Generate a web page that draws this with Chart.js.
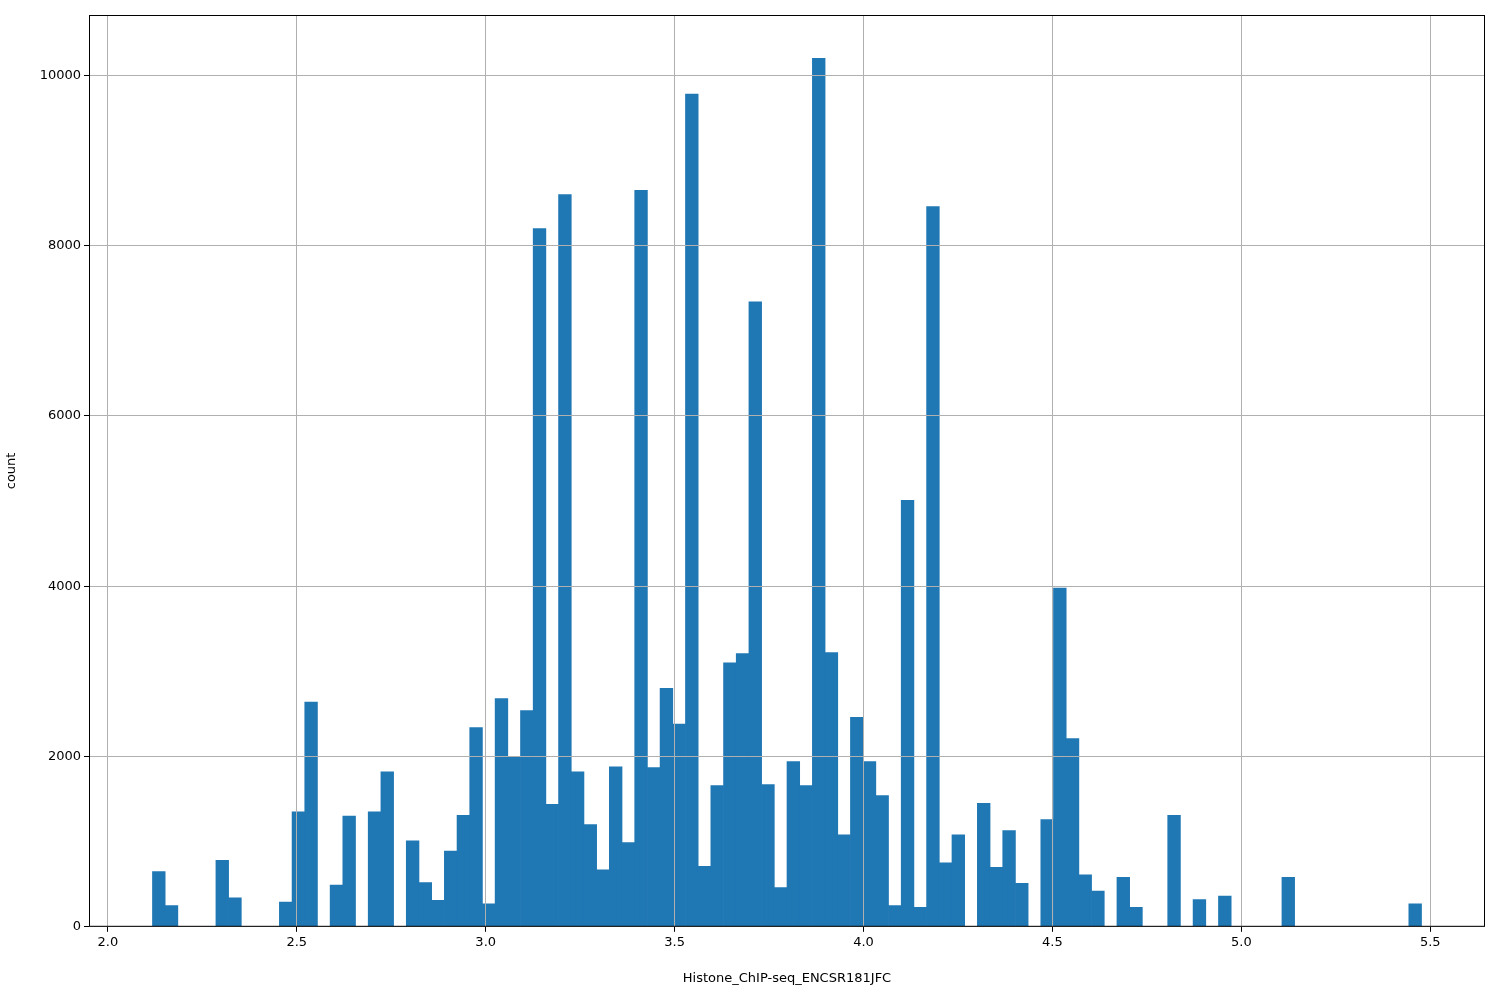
<!DOCTYPE html>
<html>
<head>
<meta charset="utf-8">
<script src="https://cdn.jsdelivr.net/npm/chart.js@4"></script>
<style>
  html, body { margin: 0; padding: 0; background: #fff; }
  #wrap { width: 1500px; height: 1000px; }
</style>
</head>
<body>
<div id="wrap"><canvas id="c"></canvas></div>
<script>
// Histogram: 100 bins between data min and max
const binStart = 2.118;
const binEnd = 5.477;
const counts = [
  650, 250, 0, 0, 0, 780, 340, 0, 0, 0,
  290, 1350, 2640, 0, 490, 1300, 0, 1350, 1820, 0,
  1010, 520, 310, 890, 1310, 2340, 270, 2680, 2000, 2540,
  8200, 1440, 8600, 1820, 1200, 670, 1880, 990, 8650, 1870,
  2800, 2380, 9780, 710, 1660, 3100, 3210, 7340, 1670, 460,
  1940, 1660, 10200, 3220, 1080, 2460, 1940, 1540, 250, 5010,
  230, 8460, 750, 1080, 0, 1450, 700, 1130, 510, 0,
  1260, 3980, 2210, 610, 420, 0, 580, 230, 0, 0,
  1310, 0, 320, 0, 360, 0, 0, 0, 0, 580,
  0, 0, 0, 0, 0, 0, 0, 0, 0, 270
];
const xTicks = [2.0, 2.5, 3.0, 3.5, 4.0, 4.5, 5.0, 5.5];
const yTicks = [0, 2000, 4000, 6000, 8000, 10000];

const binWidth = (binEnd - binStart) / counts.length;
const points = counts.map((c, i) => ({ x: binStart + (i + 0.5) * binWidth, y: c }));

// frame around the plot area
const frame = {
  id: 'frame',
  afterDraw(chart) {
    const a = chart.chartArea, ctx = chart.ctx;
    ctx.save();
    ctx.strokeStyle = '#000';
    ctx.lineWidth = 1;
    ctx.strokeRect(a.left + 0.5, a.top + 0.5, a.right - a.left - 1, a.bottom - a.top - 1);
    ctx.restore();
  }
};

new Chart(document.getElementById('c'), {
  type: 'bar',
  data: {
    datasets: [{
      data: points,
      backgroundColor: '#1f77b4',
      borderWidth: 0,
      barPercentage: 1.0,
      categoryPercentage: 1.0
    }]
  },
  options: {
    responsive: true,
    maintainAspectRatio: false,
    animation: false,
    layout: { padding: { top: 15, right: 15, left: 0, bottom: 6 } },
    plugins: { legend: { display: false }, tooltip: { enabled: false } },
    scales: {
      x: {
        type: 'linear',
        offset: false,
        min: 1.95,
        max: 5.645,
        afterBuildTicks: s => { s.ticks = xTicks.map(v => ({ value: v })); },
        ticks: {
          color: '#000', font: { family: 'DejaVu Sans', size: 13 },
          maxRotation: 0, callback: v => v.toFixed(1)
        },
        grid: { offset: false, z: 1, color: '#b0b0b0', tickColor: '#000', tickLength: 5 },
        border: { display: false },
        title: {
          display: true, text: 'Histone_ChIP-seq_ENCSR181JFC',
          color: '#000', font: { family: 'DejaVu Sans', size: 13 }, padding: { top: 17, bottom: 8 }
        }
      },
      y: {
        min: 0,
        max: 10710,
        afterBuildTicks: s => { s.ticks = yTicks.map(v => ({ value: v })); },
        afterFit: s => { s.width = 89; },
        ticks: { color: '#000', font: { family: 'DejaVu Sans', size: 13 }, callback: v => String(v) },
        grid: { z: 1, color: '#b0b0b0', tickColor: '#000', tickLength: 5 },
        border: { display: false },
        title: {
          display: true, text: 'count',
          color: '#000', font: { family: 'DejaVu Sans', size: 13 }
        }
      }
    }
  },
  plugins: [frame]
});
</script>
</body>
</html>
